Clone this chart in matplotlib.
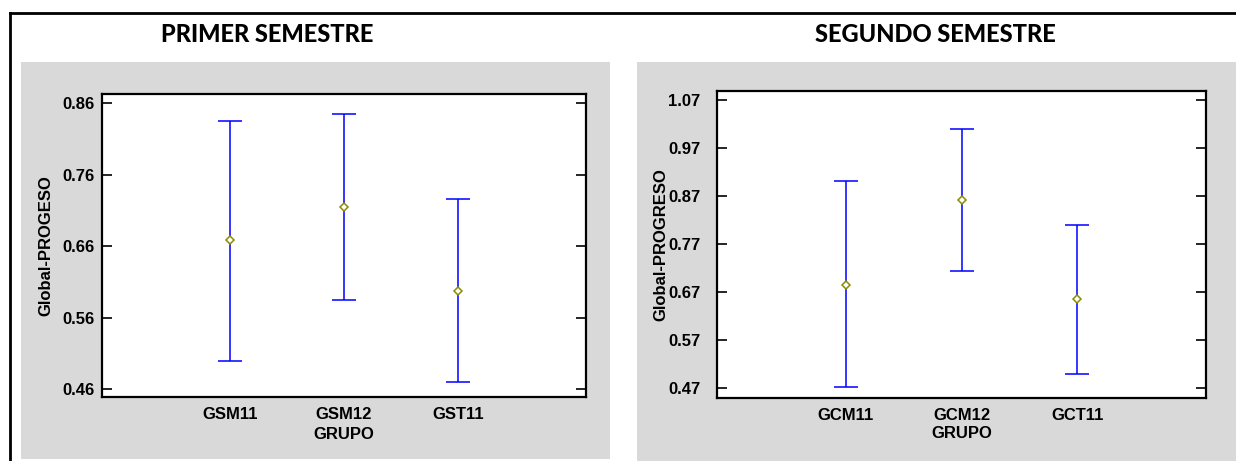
import numpy as np
import matplotlib.pyplot as plt
from matplotlib.patches import Rectangle
from matplotlib.lines import Line2D

# group means with lower / upper interval limits, per semester
grupos_1 = ['GSM11', 'GSM12', 'GST11']
media_1 = [0.668, 0.715, 0.598]
inf_1 = [0.499, 0.585, 0.470]
sup_1 = [0.835, 0.845, 0.726]
yticks_1 = [0.46, 0.56, 0.66, 0.76, 0.86]

grupos_2 = ['GCM11', 'GCM12', 'GCT11']
media_2 = [0.685, 0.861, 0.655]
inf_2 = [0.471, 0.714, 0.498]
sup_2 = [0.902, 1.010, 0.809]
yticks_2 = [0.47, 0.57, 0.67, 0.77, 0.87, 0.97, 1.07]

W, H = 1236, 461
fig = plt.figure(figsize=(W / 100, H / 100), dpi=100)

def px(x0, y0, x1, y1):
    # pixel box (top-left origin) -> figure fraction rect
    return [x0 / W, 1 - y1 / H, (x1 - x0) / W, (y1 - y0) / H]

# gray panels
for r in (px(21, 62, 610, 459), px(637, 62, 1236, 461)):
    fig.patches.append(Rectangle((r[0], r[1]), r[2], r[3], transform=fig.transFigure,
                                 facecolor='#d9d9d9', edgecolor='none', zorder=-5))

# frame lines (top and left)
fig.lines.append(Line2D([10 / W, 1], [1 - 13 / H, 1 - 13 / H], transform=fig.transFigure,
                        color='black', lw=2, zorder=-5))
fig.lines.append(Line2D([10 / W, 10 / W], [0, 1 - 13 / H], transform=fig.transFigure,
                        color='black', lw=2, zorder=-5))

fig.text(267 / W, 1 - 34 / H, 'PRIMER SEMESTRE', family='Lato', weight='black',
         fontsize=17, ha='center', va='center')
fig.text(935 / W, 1 - 34 / H, 'SEGUNDO SEMESTRE', family='Lato', weight='black',
         fontsize=17, ha='center', va='center')

tfont = dict(family='Liberation Sans', weight='bold', size=12)


def panel(rect, grupos, media, inf, sup, yticks, ylim, xlim, ylabel, ypad, xlab_y):
    ax = fig.add_axes(rect)
    x = np.arange(1, len(grupos) + 1)
    m = np.array(media)
    err = [m - np.array(inf), np.array(sup) - m]
    ax.errorbar(x, m, yerr=err, fmt='none', ecolor='#0000ff', elinewidth=1.1,
                capsize=8.5, capthick=1.1)
    ax.plot(x, m, linestyle='none', marker='D', markersize=4.5, mfc='white',
            mec='#8c8c00', mew=1.1, zorder=3)
    ax.set_xlim(*xlim)
    ax.set_ylim(*ylim)
    ax.set_xticks(x)
    ax.set_xticklabels(grupos, fontdict=tfont)
    ax.set_yticks(yticks)
    ax.set_yticklabels(['%.2f' % v for v in yticks], fontdict=tfont)
    ax.tick_params(axis='x', length=0, pad=7)
    ax.tick_params(axis='y', direction='in', left=True, right=True, length=7,
                   width=1.2, pad=ypad)
    for s in ax.spines.values():
        s.set_linewidth(1.6)
    ax.set_ylabel(ylabel, fontdict=tfont)
    ax.yaxis.set_label_coords(-0.1, 0.5)
    ax.set_xlabel('GRUPO', fontdict=tfont)
    ax.xaxis.set_label_coords(0.5, xlab_y)
    return ax


panel(px(102, 94, 586, 397), grupos_1, media_1, inf_1, sup_1, yticks_1,
      (0.449, 0.873), (-0.12, 4.12), 'Global-PROGESO', 5, -0.098)
panel(px(717, 91, 1206, 398), grupos_2, media_2, inf_2, sup_2, yticks_2,
      (0.449, 1.089), (-0.109, 4.109), 'Global-PROGRESO', 12, -0.092)

plt.savefig('out.png', dpi=100)
